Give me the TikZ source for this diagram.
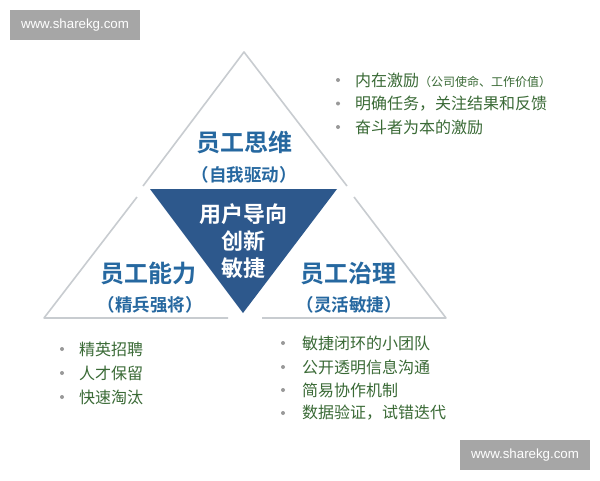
\documentclass[tikz,border=0pt]{standalone}
\usepackage{fontspec}
\setmainfont{Liberation Sans}
\newfontfamily\cjk{Noto Sans CJK SC}[BoldFont={Noto Sans CJK SC Bold}]
\definecolor{darktri}{RGB}{45,88,140}
\definecolor{titleblue}{RGB}{38,104,160}
\definecolor{bullgreen}{RGB}{58,106,54}
\definecolor{edgegray}{RGB}{200,204,208}
\definecolor{wmgray}{RGB}{166,166,166}
\begin{document}
\begin{tikzpicture}[x=1pt,y=-1pt,
  edge/.style={draw=edgegray,line width=1.6pt,line join=round},
  title/.style={font=\cjk\bfseries\fontsize{24}{28}\selectfont,text=titleblue,inner sep=0pt},
  sub/.style={font=\cjk\bfseries\fontsize{17.5}{20}\selectfont,text=titleblue,inner sep=0pt},
  center/.style={font=\cjk\bfseries\fontsize{22}{27}\selectfont,text=white,align=center,inner sep=0pt},
  item/.style={font=\cjk\fontsize{16}{19}\selectfont,text=bullgreen,anchor=west,inner sep=0pt},
  dot/.style={circle,fill=gray!80,inner sep=0pt,minimum size=4pt},
  wm/.style={fill=wmgray,text=white,font=\fontsize{13.3}{15}\selectfont,minimum width=130pt,minimum height=30pt,inner sep=0pt}
]
\useasboundingbox (0,0) rectangle (600,480);
\fill[white] (0,0) rectangle (600,480);
% triangles
\draw[edge] (143,186) -- (244,52) -- (347,186);
\draw[edge] (228,318) -- (44,318) -- (137,197);
\draw[edge] (262,318) -- (446,318) -- (354,197);
\fill[darktri] (150,189) -- (337,189) -- (243,313) -- cycle;
% titles
\node[title] (t1) at (244,142) {员工思维};
\node[sub] (s1) at (244,175) {（自我驱动）};
\node[title] (t2) at (148,273) {员工能力};
\node[sub] (s2) at (150,305) {（精兵强将）};
\node[title] (t3) at (348,273) {员工治理};
\node[sub] (s3) at (349,305) {（灵活敏捷）};
\node[center] (c) at (243,241) {用户导向\\创新\\敏捷};
% top-right bullets
\node[dot] (d1) at (338,80) {};
\node[item] (a1) at (355,80) {内在激励{\fontsize{12}{14}\selectfont（公司使命、工作价值）}};
\node[dot] (d2) at (338,103.5) {};
\node[item] (a2) at (355,103.5) {明确任务，关注结果和反馈};
\node[dot] (d3) at (338,127) {};
\node[item] (a3) at (355,127) {奋斗者为本的激励};
% bottom-left bullets
\node[dot] (e1) at (62,349) {};
\node[item] (b1) at (79,349) {精英招聘};
\node[dot] (e2) at (62,373) {};
\node[item] (b2) at (79,373) {人才保留};
\node[dot] (e3) at (62,397) {};
\node[item] (b3) at (79,397) {快速淘汰};
% bottom-right bullets
\node[dot] (f1) at (283,343) {};
\node[item] (g1) at (302,343) {敏捷闭环的小团队};
\node[dot] (f2) at (283,367) {};
\node[item] (g2) at (302,367) {公开透明信息沟通};
\node[dot] (f3) at (283,390) {};
\node[item] (g3) at (302,390) {简易协作机制};
\node[dot] (f4) at (283,413) {};
\node[item] (g4) at (302,413) {数据验证，试错迭代};
% watermarks
\node[wm] (w1) at (75,25) {www.sharekg.com};
\node[wm] (w2) at (525,455) {www.sharekg.com};
\end{tikzpicture}
\end{document}
